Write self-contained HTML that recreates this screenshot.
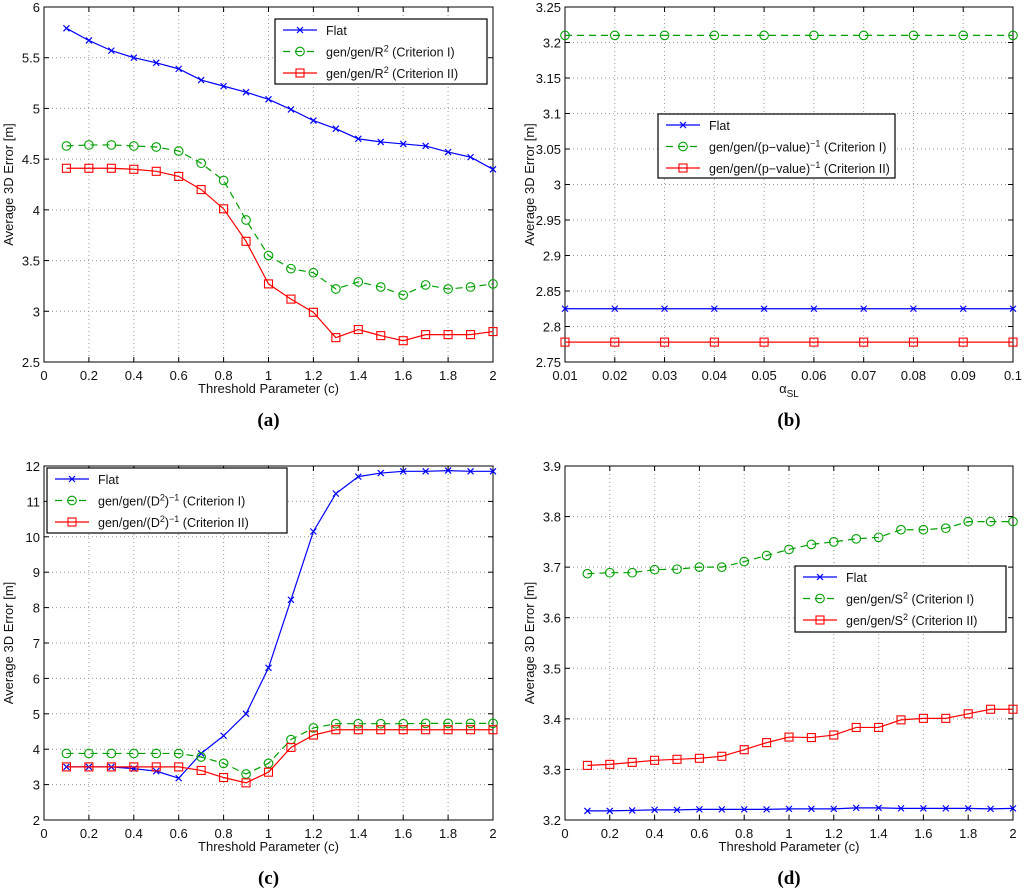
<!DOCTYPE html>
<html><head><meta charset="utf-8"><style>
body{margin:0;background:#fff;}
svg{display:block;font-family:"Liberation Sans",sans-serif;}
</style></head><body>
<svg id="chart" width="1024" height="892"></svg>
<script>
const xsC = [0.1,0.2,0.3,0.4,0.5,0.6,0.7,0.8,0.9,1.0,1.1,1.2,1.3,1.4,1.5,1.6,1.7,1.8,1.9,2.0];
const xsB = [0.01,0.02,0.03,0.04,0.05,0.06,0.07,0.08,0.09,0.1];
const aFlat = [5.79,5.67,5.57,5.50,5.45,5.39,5.28,5.22,5.16,5.09,4.99,4.88,4.80,4.70,4.67,4.65,4.63,4.57,4.52,4.40];
const aCrit1 = [4.63,4.64,4.64,4.63,4.62,4.58,4.46,4.29,3.90,3.55,3.42,3.38,3.22,3.29,3.24,3.16,3.26,3.22,3.24,3.27];
const aCrit2 = [4.41,4.41,4.41,4.40,4.38,4.33,4.20,4.01,3.69,3.27,3.12,2.99,2.74,2.82,2.76,2.71,2.77,2.77,2.77,2.80];
const bFlat = [2.825,2.825,2.825,2.825,2.825,2.825,2.825,2.825,2.825,2.825];
const bCrit1 = [3.21,3.21,3.21,3.21,3.21,3.21,3.21,3.21,3.21,3.21];
const bCrit2 = [2.778,2.778,2.778,2.778,2.778,2.778,2.778,2.778,2.778,2.778];
const cFlat = [3.5,3.5,3.5,3.45,3.38,3.18,3.88,4.38,5.0,6.3,8.22,10.15,11.22,11.7,11.8,11.85,11.85,11.87,11.85,11.85];
const cCrit1 = [3.88,3.88,3.88,3.88,3.88,3.88,3.78,3.6,3.3,3.6,4.27,4.6,4.72,4.72,4.72,4.72,4.73,4.73,4.73,4.73];
const cCrit2 = [3.5,3.5,3.5,3.5,3.5,3.5,3.4,3.2,3.05,3.35,4.05,4.4,4.55,4.55,4.55,4.55,4.55,4.55,4.55,4.55];
const dFlat = [3.218,3.218,3.219,3.220,3.220,3.221,3.221,3.221,3.221,3.222,3.222,3.222,3.224,3.224,3.223,3.223,3.223,3.223,3.222,3.223];
const dCrit1 = [3.687,3.689,3.689,3.695,3.696,3.700,3.700,3.711,3.723,3.735,3.745,3.750,3.756,3.759,3.774,3.774,3.777,3.790,3.790,3.790];
const dCrit2 = [3.308,3.310,3.314,3.318,3.320,3.322,3.326,3.339,3.353,3.364,3.363,3.368,3.383,3.383,3.398,3.401,3.401,3.410,3.419,3.419];
const xTicksC = ["0","0.2","0.4","0.6","0.8","1","1.2","1.4","1.6","1.8","2"];
const xTicksB = ["0.01","0.02","0.03","0.04","0.05","0.06","0.07","0.08","0.09","0.1"];
const yTicksA = ["2.5","3","3.5","4","4.5","5","5.5","6"];
const yTicksB = ["2.75","2.8","2.85","2.9","2.95","3","3.05","3.1","3.15","3.2","3.25"];
const yTicksC = ["2","3","4","5","6","7","8","9","10","11","12"];
const yTicksD = ["3.2","3.3","3.4","3.5","3.6","3.7","3.8","3.9"];

const NS="http://www.w3.org/2000/svg";
const svg=document.getElementById('chart');
function mk(tag,attrs,parent){const e=document.createElementNS(NS,tag);for(const k in attrs)e.setAttribute(k,attrs[k]);(parent||svg).appendChild(e);return e;}

function panel(id,box,xTicks,yTicks,xs,series,legend,xlabel,caption){
  const [L,T,R,B]=box;
  const g=mk('g',{});
  
  
  const xv=xTicks.map(Number), yv=yTicks.map(Number);
  const x0=xv[0],x1=xv[xv.length-1],y0=yv[0],y1=yv[yv.length-1];
  const sx=v=>L+(v-x0)/(x1-x0)*(R-L);
  const sy=v=>B-(v-y0)/(y1-y0)*(B-T);
  mk('rect',{x:L,y:T,width:R-L,height:B-T,fill:'#fff'},g);
  xTicks.forEach((t,i)=>{const x=sx(xv[i]);
    if(i>0&&i<xv.length-1)mk('line',{x1:x,y1:T,x2:x,y2:B,stroke:'#999','stroke-dasharray':'1,3','stroke-width':1},g);
    mk('line',{x1:x,y1:B,x2:x,y2:B-5,stroke:'#000'},g);mk('line',{x1:x,y1:T,x2:x,y2:T+5,stroke:'#000'},g);
    const tx=mk('text',{x:x,y:B+18,'font-size':13,'text-anchor':'middle',fill:'#111'},g);tx.textContent=t;
    });
  yTicks.forEach((t,i)=>{const y=sy(yv[i]);
    if(i>0&&i<yv.length-1)mk('line',{x1:L,y1:y,x2:R,y2:y,stroke:'#999','stroke-dasharray':'1,3','stroke-width':1},g);
    mk('line',{x1:L,y1:y,x2:L+5,y2:y,stroke:'#000'},g);mk('line',{x1:R,y1:y,x2:R-5,y2:y,stroke:'#000'},g);
    const tx=mk('text',{x:L-4,y:y+5,'font-size':13,'text-anchor':'end',fill:'#111'},g);tx.textContent=t;
    });
  mk('rect',{x:L,y:T,width:R-L,height:B-T,fill:'none',stroke:'#000','stroke-width':1},g);
  series.forEach(s=>{
    const sg=mk('g',{},g);
    
    
    const pts=s.vals.map((v,i)=>sx(xs[i])+','+sy(v)).join(' ');
    mk('polyline',{points:pts,fill:'none',stroke:s.color,'stroke-width':1.2,'stroke-dasharray':s.dash||'none'},sg);
    s.vals.forEach((v,i)=>marker(sg,s.mark,sx(xs[i]),sy(v),s.color));
  });
  // legend
  const [lx,ly,lw,lh]=legend.box;
  const lg=mk('g',{},g);
  
  
  mk('rect',{x:lx,y:ly,width:lw,height:lh,fill:'#fff',stroke:'#000','stroke-width':1.2},lg);
  series.forEach((s,i)=>{const yy=ly+11+i*21.5;
    const eg=mk('g',{},lg);
    
    
    mk('line',{x1:lx+8,y1:yy,x2:lx+42,y2:yy,stroke:s.color,'stroke-width':1.2,'stroke-dasharray':s.dash||'none'},eg);
    marker(eg,s.mark,lx+25,yy,s.color);
    const t=mk('text',{x:lx+51,y:yy+5,'font-size':12.5,fill:'#111'},eg);t.innerHTML=legend.labels[i];});
  const xl=mk('text',{x:(L+R)/2,y:B+31,'font-size':13,'text-anchor':'middle',fill:'#111'},g);xl.innerHTML=xlabel;
  
  const yl=mk('text',{x:0,y:0,'font-size':13,'text-anchor':'middle',fill:'#111',transform:`translate(${L-31},${(T+B)/2}) rotate(-90)`},g);yl.textContent='Average 3D Error [m]';
  
  const cp=mk('text',{x:(L+R)/2,y:B+64,'font-size':19,'font-weight':'bold','text-anchor':'middle','font-family':'Liberation Serif, serif',fill:'#000'},g);cp.textContent=caption;
  
}
function marker(g,type,x,y,c){
  if(type==='x'){mk('path',{d:`M${x-3},${y-3}L${x+3},${y+3}M${x-3},${y+3}L${x+3},${y-3}`,stroke:c,'stroke-width':1.2},g);}
  else if(type==='o'){mk('circle',{cx:x,cy:y,r:4.3,fill:'none',stroke:c,'stroke-width':1.1},g);}
  else {mk('rect',{x:x-4,y:y-4,width:8,height:8,fill:'none',stroke:c,'stroke-width':1.1},g);}
}
const BL='#0000ff',GR='#00a000',RD='#ff0000';
function S(n,v,c,m,d){return {name:n,vals:v,color:c,mark:m,dash:d};}
panel('a',[44,7,493,362],xTicksC,yTicksA,xsC,
 [S('flat',aFlat,BL,'x'),S('criterion-1',aCrit1,GR,'o','7,5'),S('criterion-2',aCrit2,RD,'s')],
 {box:[275,19,212,65],labels:['Flat','gen/gen/R<tspan dy="-5" font-size="9">2</tspan><tspan dy="5"> (Criterion I)</tspan>','gen/gen/R<tspan dy="-5" font-size="9">2</tspan><tspan dy="5"> (Criterion II)</tspan>']},
 'Threshold Parameter (c)','(a)');
panel('b',[565,7,1013,362],xTicksB,yTicksB,xsB,
 [S('flat',bFlat,BL,'x'),S('criterion-1',bCrit1,GR,'o','7,5'),S('criterion-2',bCrit2,RD,'s')],
 {box:[658,114,237,64],labels:['Flat','gen/gen/(p−value)<tspan dy="-5" font-size="9">−1</tspan><tspan dy="5"> (Criterion I)</tspan>','gen/gen/(p−value)<tspan dy="-5" font-size="9">−1</tspan><tspan dy="5"> (Criterion II)</tspan>']},
 'α<tspan dy="4" font-size="10">SL</tspan>','(b)');
panel('c',[44,466,493,820],xTicksC,yTicksC,xsC,
 [S('flat',cFlat,BL,'x'),S('criterion-1',cCrit1,GR,'o','7,5'),S('criterion-2',cCrit2,RD,'s')],
 {box:[47,468,240,65],labels:['Flat','gen/gen/(D<tspan dy="-5" font-size="9">2</tspan><tspan dy="5">)</tspan><tspan dy="-5" font-size="9">−1</tspan><tspan dy="5"> (Criterion I)</tspan>','gen/gen/(D<tspan dy="-5" font-size="9">2</tspan><tspan dy="5">)</tspan><tspan dy="-5" font-size="9">−1</tspan><tspan dy="5"> (Criterion II)</tspan>']},
 'Threshold Parameter (c)','(c)');
panel('d',[565,466,1013,820],xTicksC,yTicksD,xsC,
 [S('flat',dFlat,BL,'x'),S('criterion-1',dCrit1,GR,'o','7,5'),S('criterion-2',dCrit2,RD,'s')],
 {box:[795,566,211,66],labels:['Flat','gen/gen/S<tspan dy="-5" font-size="9">2</tspan><tspan dy="5"> (Criterion I)</tspan>','gen/gen/S<tspan dy="-5" font-size="9">2</tspan><tspan dy="5"> (Criterion II)</tspan>']},
 'Threshold Parameter (c)','(d)');
</script>
</body></html>
